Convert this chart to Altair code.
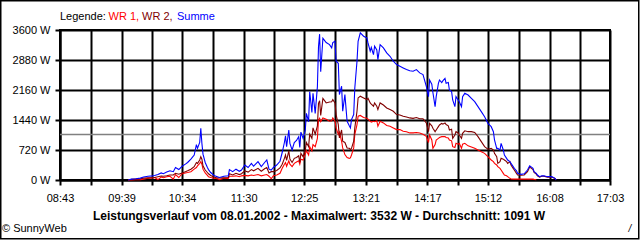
import altair as alt
import pandas as pd

# ---- data ----
times = ["09:45","09:48","09:52","09:56","09:59","10:03","10:07","10:09","10:12","10:15","10:17","10:20","10:23","10:26","10:28","10:31","10:34","10:37","10:39","10:42","10:45","10:47","10:48","10:50","10:51","10:52","10:53","10:55","10:57","10:58","11:00","11:03","11:06","11:08","11:12","11:16","11:17","11:20","11:23","11:26","11:28","11:31","11:34","11:37","11:39","11:43","11:46","11:49","11:51","11:53","11:55","11:57","12:00","12:03","12:05","12:07","12:08","12:09","12:11","12:12","12:14","12:16","12:18","12:20","12:21","12:22","12:24","12:26","12:27","12:29","12:30","12:32","12:33","12:35","12:37","12:38","12:39","12:40","12:42","12:45","12:48","12:50","12:51","12:53","12:54","12:56","12:57","12:59","13:00","13:02","13:04","13:06","13:07","13:08","13:10","13:11","13:13","13:14","13:16","13:19","13:22","13:23","13:25","13:26","13:28","13:29","13:31","13:32","13:34","13:37","13:40","13:43","13:46","13:49","13:52","13:55","13:58","14:01","14:04","14:07","14:10","14:13","14:16","14:18","14:19","14:21","14:22","14:24","14:25","14:27","14:28","14:30","14:31","14:33","14:34","14:36","14:37","14:39","14:40","14:42","14:43","14:45","14:46","14:48","14:49","14:51","14:54","14:57","15:00","15:03","15:06","15:09","15:12","15:15","15:17","15:18","15:20","15:21","15:23","15:24","15:26","15:27","15:29","15:30","15:32","15:33","15:35","15:36","15:38","15:39","15:42","15:45","15:48","15:50","15:51","15:53","15:54","15:56","15:57","15:59","16:01","16:03","16:06","16:10","16:13","16:14"]

summe = [0,20,30,45,70,90,100,110,130,170,150,190,220,200,300,250,330,380,420,500,600,850,760,900,1240,880,620,420,300,250,180,110,80,60,90,100,250,200,260,210,240,360,300,400,330,440,320,420,480,260,240,300,360,450,660,900,1060,800,1200,880,720,900,950,1040,780,1150,1000,1200,1600,1400,2120,1620,2080,1600,2240,3200,3500,2600,3400,3300,3250,3170,3300,3330,2850,2800,2050,2250,1650,2050,1410,1300,1250,1450,1570,2210,2850,3330,3532,3450,3410,3290,3090,3180,3010,3210,3120,2890,3250,3170,3050,2970,2850,2770,2730,2690,2650,2620,2610,2650,2570,2530,2250,2000,2400,2300,2100,1760,2000,2320,2400,2340,2380,2440,2320,2340,2160,2120,1920,1760,2000,1920,1880,1760,2000,2080,2040,1960,1880,1760,1640,1520,1360,1280,1160,960,760,760,720,880,720,600,520,480,440,400,320,280,220,160,135,150,240,340,320,280,200,160,120,80,100,100,80,80,40,0]

wr1 = [0,0,5,10,20,40,50,60,10,70,55,80,90,20,130,60,150,170,180,200,260,300,340,400,440,380,260,170,110,80,60,40,30,10,40,40,90,90,100,80,100,110,100,120,110,130,100,120,130,90,30,100,120,160,280,380,420,330,460,380,320,400,430,460,380,500,480,620,700,600,800,700,850,800,1000,1440,1480,1400,1490,1460,1410,1420,1490,1410,1250,1090,1150,930,770,610,540,520,530,600,770,1090,1330,1530,1550,1500,1480,1460,1410,1390,1410,1400,1420,1290,1410,1370,1310,1290,1250,1210,1210,1170,1160,1130,1130,1140,1130,1100,1050,900,1080,960,760,850,960,1000,1020,1040,1040,1040,1020,1010,960,940,800,780,880,860,880,760,860,880,820,790,760,720,680,640,560,480,440,400,360,320,280,240,160,120,100,80,40,24,20,20,20,20,20,20,20,20,20,20,15,10,None,None,None,None,None,None,None,None]

wr2 = [0,15,25,30,45,50,55,60,80,95,90,100,120,120,160,140,170,200,220,260,320,420,400,480,560,500,340,240,180,150,110,70,50,50,50,60,150,120,160,130,150,220,190,250,220,280,210,270,300,170,200,200,230,290,380,520,600,470,700,500,420,520,540,580,420,640,560,720,900,800,1100,1000,1250,1100,1300,1840,1900,1550,1960,1850,1870,1880,1930,1850,1570,1330,1010,1200,930,900,770,760,730,760,930,1250,1650,1970,2010,1970,1930,1960,1850,1820,1770,1850,1770,1690,1850,1800,1730,1690,1650,1570,1560,1530,1510,1490,1480,1500,1470,1470,1370,1160,1360,1300,1240,1160,1200,1280,1320,1360,1340,1370,1330,1300,1200,1220,1000,1080,1160,1130,1080,1000,1120,1180,1160,1160,1140,1040,920,800,740,760,720,640,560,400,440,520,500,480,440,400,440,360,280,240,160,120,115,120,200,310,290,250,180,140,100,70,90,90,70,70,35,0]

series_names = ["WR 1", "WR 2", "Summe"]
series_colors = ["#ff0000", "#800000", "#0000ff"]

y_ticks = [0, 720, 1440, 2160, 2880, 3600]
x_labels = ["08:43", "09:39", "10:34", "11:30", "12:25", "13:21", "14:17", "15:12", "16:08", "17:03"]
durchschnitt = 1091
maximalwert = 3532
datum_text = "08.01.2002"

legend_prefix = "Legende:"
footer_left = "\u00a9 SunnyWeb"
footer_right = "/"

# ---- build tables ----
def to_min(s):
    h, m = s.split(":")
    return int(h) * 60 + int(m)

rows = []
for name, vals in zip(series_names, [wr1, wr2, summe]):
    for t, v in zip(times, vals):
        if v is not None:
            rows.append({"t": to_min(t), "w": v, "s": name})
df = pd.DataFrame(rows)

label_mins = [to_min(s) for s in x_labels]
x_tick_vals = []
for i, m in enumerate(label_mins):
    x_tick_vals.append(m)
    if i + 1 < len(label_mins):
        x_tick_vals.append((m + label_mins[i + 1]) / 2)
label_expr = ""
for m, s in zip(label_mins, x_labels):
    label_expr += f"datum.value == {m} ? '{s}' : "
label_expr += "''"

FONT = "Liberation Sans"

x_scale = alt.Scale(domain=[label_mins[0], label_mins[-1]], nice=False, zero=False)
y_scale = alt.Scale(domain=[0, 3600], nice=False)
x_axis = alt.Axis(values=x_tick_vals, labelExpr=label_expr, title=None, labelFlush=False,
                  labelOverlap=False, labelPadding=7, labelBound=False)
y_axis = alt.Axis(values=y_ticks, labelExpr="datum.value + ' W'", title=None,
                  labelFlush=False, labelPadding=5, labelOverlap=False)

avg = alt.Chart(pd.DataFrame({"w": [durchschnitt]})).mark_rule(
    color="#808080", strokeWidth=1.5).encode(y=alt.Y("w:Q", scale=y_scale, axis=y_axis))

lines = []
for name, col in zip(series_names, series_colors):
    lines.append(
        alt.Chart(df[df.s == name]).mark_line(color=col, strokeWidth=1.1).encode(
            x=alt.X("t:Q", scale=x_scale, axis=x_axis),
            y=alt.Y("w:Q", scale=y_scale, axis=y_axis))
    )

# legend texts
leg_df = pd.DataFrame({
    "txt": [legend_prefix, series_names[0] + ",", series_names[1] + ",", series_names[2]],
    "col": ["#000000"] + series_colors,
    "px": [0, 48.5, 82, 117],
})
legend = alt.Chart(leg_df).mark_text(font=FONT, fontSize=11, align="left", baseline="middle").encode(
    x=alt.X("px:Q", scale=None), y=alt.value(-13.5), text="txt:N",
    color=alt.Color("col:N", scale=None))

title_txt = (f"Leistungsverlauf vom {datum_text} - Maximalwert: {maximalwert} W - "
             f"Durchschnitt: {durchschnitt} W")
title = alt.Chart(pd.DataFrame({"txt": [title_txt]})).mark_text(
    font=FONT, fontSize=12, fontWeight="bold", align="center", baseline="middle", color="black"
).encode(x=alt.value(259), y=alt.value(186), text="txt:N")

foot_l = alt.Chart(pd.DataFrame({"txt": [footer_left]})).mark_text(
    font=FONT, fontSize=11, align="left", baseline="middle", color="black"
).encode(x=alt.value(-58), y=alt.value(199), text="txt:N")
foot_r = alt.Chart(pd.DataFrame({"txt": [footer_right]})).mark_text(
    font=FONT, fontSize=10, fontStyle="italic", align="center", baseline="middle", color="black"
).encode(x=alt.value(570), y=alt.value(199), text="txt:N")

frame = alt.Chart(pd.DataFrame({"a": [0]})).mark_rect(
    filled=False, stroke="black", strokeWidth=1.5
).encode(x=alt.value(-59.25), x2=alt.value(578.75), y=alt.value(-29.25), y2=alt.value(208.75))

chart = alt.layer(avg, *lines, legend, title, foot_l, foot_r, frame).properties(
    width=550, height=150,
    padding={"left": 60, "top": 30, "right": 30, "bottom": 60},
    autosize=alt.AutoSizeParams(type="none"),
    background="white",
).configure_axis(
    domainColor="black", domainWidth=2, gridColor="black", gridWidth=2, gridOpacity=1,
    tickColor="black", tickWidth=2, tickSize=5, labelFont=FONT, labelFontSize=11,
    labelColor="black", grid=True,
).configure_view(stroke="black", strokeWidth=2)

chart.save("out.html", embed_options={"renderer": "svg", "actions": False})
